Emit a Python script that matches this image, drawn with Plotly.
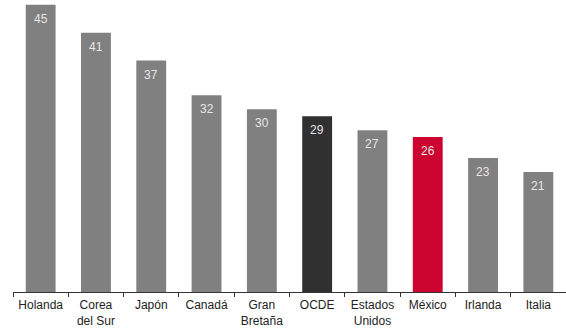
import plotly.graph_objects as go

categories = ["Holanda", "Corea<br>del Sur", "Japón", "Canadá", "Gran<br>Bretaña",
              "OCDE", "Estados<br>Unidos", "México", "Irlanda", "Italia"]
values = [45, 41, 37, 32, 30, 29, 27, 26, 23, 21]
colors = ["#808080"] * 5 + ["#303030", "#808080", "#cc0530", "#808080", "#808080"]

fig = go.Figure(go.Bar(
    x=categories, y=values,
    marker=dict(color=colors, line=dict(width=0)),
    width=0.54, cliponaxis=True, hoverinfo="skip",
))
for c, v in zip(categories, values):
    fig.add_annotation(
        x=c, y=v, text=str(v), showarrow=False, yanchor="top", yshift=-5,
        font=dict(family="Liberation Sans, Arial", size=12, color="#e6e6e6"),
    )
fig.update_layout(
    width=566, height=329,
    margin=dict(l=13, r=0, t=0, b=37),
    plot_bgcolor="white", paper_bgcolor="white",
    showlegend=False,
    font=dict(family="Liberation Sans, Arial", size=12, color="#222222"),
)
fig.update_xaxes(
    type="category", showline=True, linecolor="#333333", linewidth=1,
    ticks="outside", tickson="boundaries", ticklen=4, tickcolor="#333333",
    showgrid=False, tickfont=dict(size=12, color="#222222"),
    ticklabelstandoff=2,
)
fig.update_yaxes(range=[3.74, 45.7], visible=False, showgrid=False, zeroline=False)
fig.write_html("out.html")
